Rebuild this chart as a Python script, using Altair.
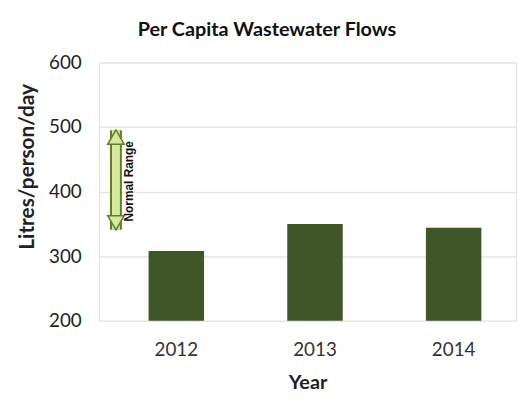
import altair as alt
import pandas as pd

years = ["2012", "2013", "2014"]
flows = [308, 350, 344]
range_low = [341]
range_high = [495]
range_label = ["Normal Range"]

bars = pd.DataFrame({"Year": years, "Flow": flows, "Base": [200] * len(years)})
rng = pd.DataFrame({"lo": range_low, "hi": range_high, "label": range_label,
                    "mid": [(range_low[0] + range_high[0]) / 2 - 2]})

FONT = "Lato"
y_scale = alt.Scale(domain=[200, 600], nice=False, zero=False)

base_bars = alt.Chart(bars).mark_bar(color="#3f5628", width=56).encode(
    x=alt.X("Year:N", title="Year", sort=years,
            scale=alt.Scale(paddingInner=0.6, paddingOuter=0.3036, align=0.588),
            axis=alt.Axis(labelAngle=0, labelFontSize=19, labelColor="#333333",
                          titleFontSize=20, titleFontWeight="bold", titleColor="#222222",
                          domain=False, ticks=False, labelPadding=20, titlePadding=13,
                          labelFont=FONT, titleFont=FONT)),
    y=alt.Y("Flow:Q", title="Litres/person/day", scale=y_scale,
            axis=alt.Axis(values=[200, 300, 400, 500, 600], labelFontSize=19,
                          labelColor="#222222", titleFontSize=21, titleFontWeight="bold",
                          titleColor="#222222", domain=False, ticks=False, labelPadding=18,
                          titleX=-72, titleY=105, titleBaseline="middle", titleAlign="center",
                          gridColor="#e6e6e6", gridWidth=1.5,
                          labelFont=FONT, titleFont=FONT)),
    y2="Base:Q",
)

ax = alt.value(17)
outline = alt.Chart(rng).mark_rule(color="#5d7f2e", strokeWidth=12).encode(
    x=ax, y=alt.Y("lo:Q", scale=y_scale), y2="hi:Q")
fill = alt.Chart(rng).mark_rule(color="#d6ea9c", strokeWidth=8).encode(
    x=ax, y=alt.Y("lo:Q", scale=y_scale), y2="hi:Q")
head_top = alt.Chart(rng).mark_point(shape="triangle-up", size=280, filled=True,
                                     fill="#d6ea9c", stroke="#5d7f2e", strokeWidth=1.5,
                                     opacity=1).encode(
    x=ax, y=alt.Y("hi:Q", scale=y_scale), yOffset=alt.value(7))
head_bot = alt.Chart(rng).mark_point(shape="triangle-down", size=280, filled=True,
                                     fill="#d6ea9c", stroke="#5d7f2e", strokeWidth=1.5,
                                     opacity=1).encode(
    x=ax, y=alt.Y("lo:Q", scale=y_scale), yOffset=alt.value(-7))
label = alt.Chart(rng).mark_text(angle=270, fontSize=12, fontWeight="bold",
                                 font="Liberation Sans", color="#111111").encode(
    x=alt.value(30), y=alt.Y("mid:Q", scale=y_scale), text="label:N")

chart = alt.layer(base_bars, outline, fill, head_top, head_bot, label).properties(
    width=421, height=261,
    title=alt.TitleParams("Per Capita Wastewater Flows", fontSize=20, fontWeight="bold",
                          font=FONT, color="#111111", anchor="middle", offset=14, dx=-41),
    autosize=alt.AutoSizeParams(type="none"),
    padding={"left": 92, "top": 53, "right": 5, "bottom": 77},
).configure_view(stroke=None).configure(background="white")

chart.save("out.html", embed_options={"renderer": "svg", "actions": False})
